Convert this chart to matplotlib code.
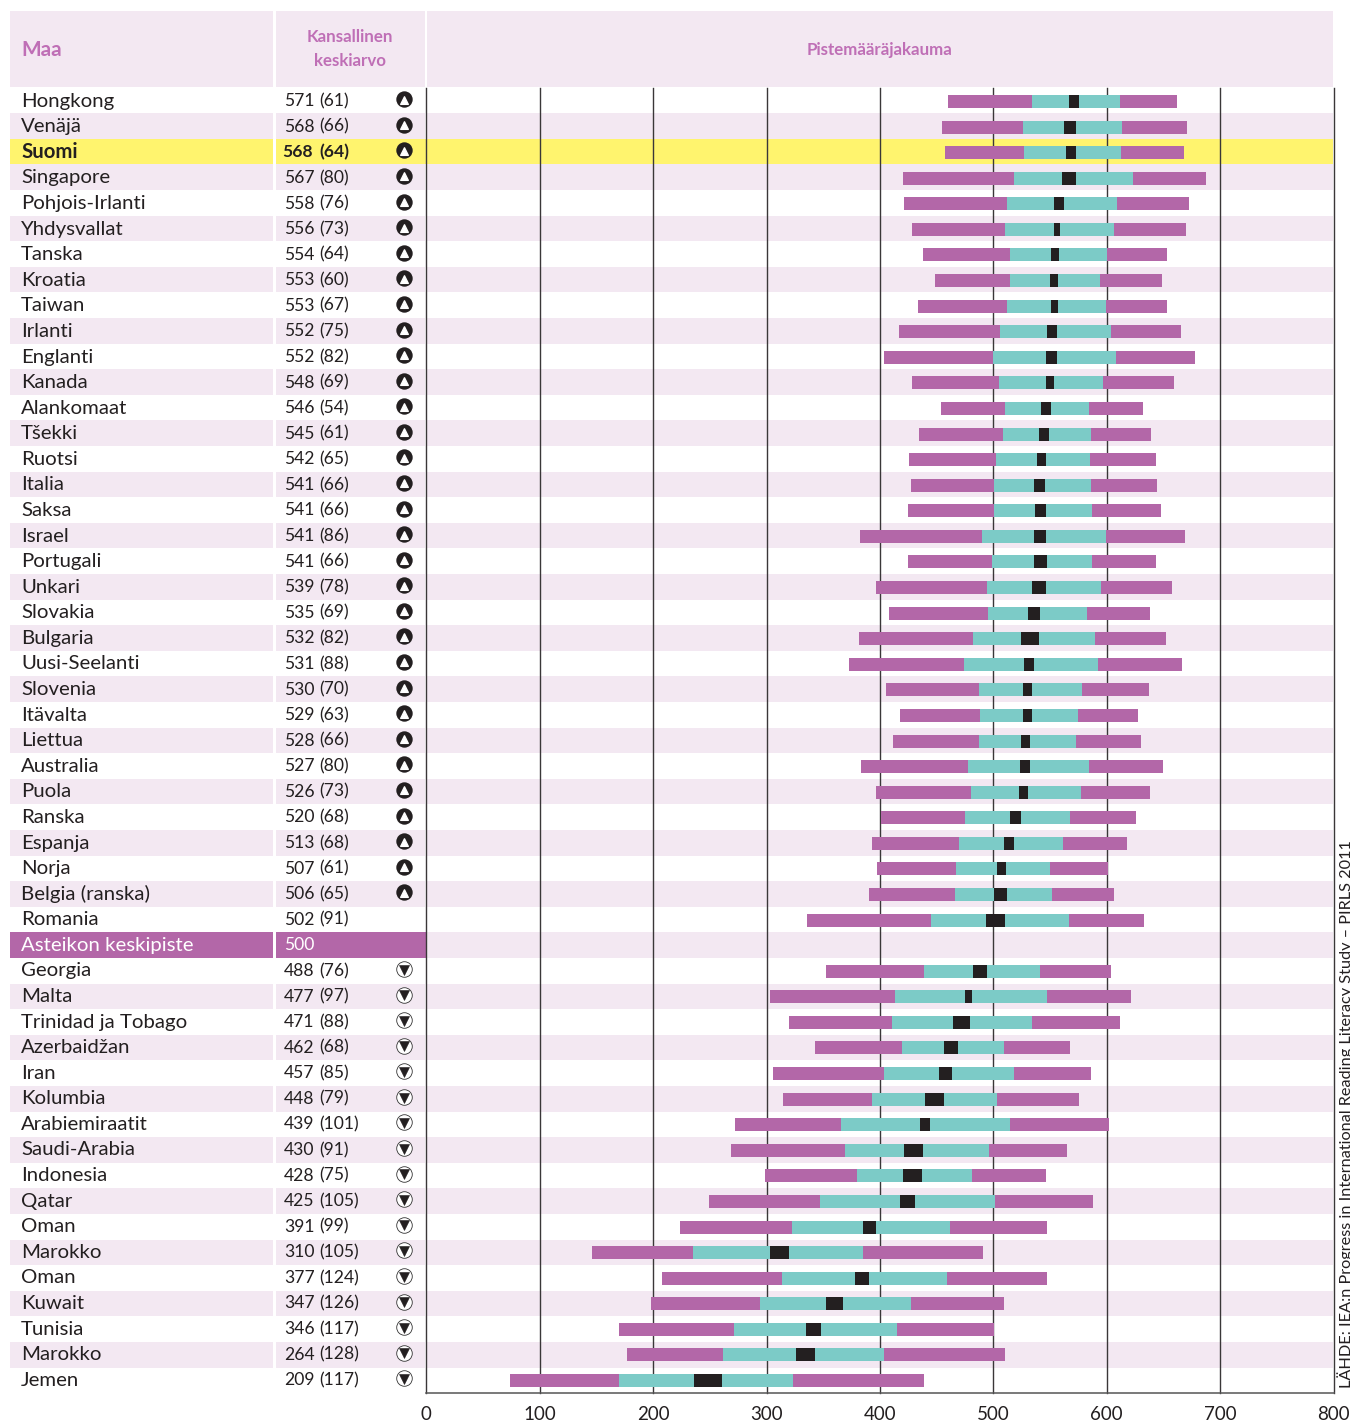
import numpy as np
import matplotlib
matplotlib.use('Agg')
import matplotlib.pyplot as plt
from matplotlib.patches import Rectangle

nan = np.nan

countries = ['Hongkong', 'Venäjä', 'Suomi', 'Singapore', 'Pohjois-Irlanti', 'Yhdysvallat', 'Tanska', 'Kroatia',
             'Taiwan', 'Irlanti', 'Englanti', 'Kanada', 'Alankomaat', 'Tšekki', 'Ruotsi', 'Italia', 'Saksa',
             'Israel', 'Portugali', 'Unkari', 'Slovakia', 'Bulgaria', 'Uusi-Seelanti', 'Slovenia', 'Itävalta',
             'Liettua', 'Australia', 'Puola', 'Ranska', 'Espanja', 'Norja', 'Belgia (ranska)', 'Romania',
             'Asteikon keskipiste', 'Georgia', 'Malta', 'Trinidad ja Tobago', 'Azerbaidžan', 'Iran', 'Kolumbia',
             'Arabiemiraatit', 'Saudi-Arabia', 'Indonesia', 'Qatar', 'Oman', 'Marokko', 'Oman', 'Kuwait',
             'Tunisia', 'Marokko', 'Jemen']
means = [571, 568, 568, 567, 558, 556, 554, 553, 553, 552, 552, 548, 546, 545, 542, 541, 541, 541, 541, 539,
         535, 532, 531, 530, 529, 528, 527, 526, 520, 513, 507, 506, 502, 500, 488, 477, 471, 462, 457, 448,
         439, 430, 428, 425, 391, 310, 377, 347, 346, 264, 209]
spreads = [61, 66, 64, 80, 76, 73, 64, 60, 67, 75, 82, 69, 54, 61, 65, 66, 66, 86, 66, 78, 69, 82, 88, 70, 63,
           66, 80, 73, 68, 68, 61, 65, 91, None, 76, 97, 88, 68, 85, 79, 101, 91, 75, 105, 99, 105, 124, 126,
           117, 128, 117]
# 1 = yli asteikon keskipisteen, -1 = alle, 0 = ei eroa
signs = [1] * 32 + [0, 0] + [-1] * 17

p5 = [460, 454.7, 457.3, 420.3, 421.2, 428.3, 437.9, 448.5, 433.5, 416.8, 403.5, 428.3, 453.8, 434.4, 425.6,
      427.4, 424.7, 382.4, 424.7, 396.5, 408, 381.5, 372.7, 405.3, 417.7, 411.5, 383.3, 396.5, 400.9, 393,
      397.4, 390.3, 335.7, nan, 352.5, 303.1, 319.8, 342.8, 305.7, 314.5, 272.2, 268.7, 298.7, 249.3, 223.8,
      146.2, 208, 198.1, 170, 177.3, 73.8]
p25 = [534.1, 526.1, 527, 518.2, 512, 510.3, 514.7, 514.7, 512, 505.8, 499.7, 505, 510.3, 508.5, 502.3,
       500.5, 500.5, 490, 498.8, 494.4, 495.3, 482, 474.1, 487.3, 488.2, 487.3, 477.6, 480.3, 475, 469.7,
       467, 466.2, 445, nan, 438.9, 413.3, 410.7, 419.5, 403.6, 393, 365.7, 369.2, 379.8, 347.2, 322.5,
       235.4, 314, 294.2, 271.6, 261.7, 170]
ci_low = [566.7, 562.3, 564, 560.5, 553.5, 553.5, 550.8, 549.9, 550.8, 547.3, 546.4, 546.4, 542, 540.2, 538.5,
          535.8, 536.7, 535.8, 535.8, 534.1, 530.5, 524.4, 527, 526.1, 526.1, 524.4, 523.5, 522.6, 514.7, 509.4,
          503.2, 500.5, 493.5, nan, 482, 475, 464.4, 456.5, 452.1, 439.8, 435.3, 421.2, 420.4, 417.7, 385.1,
          303.4, 378.3, 352.7, 334.8, 326, 236.1]
ci_high = [575.5, 572.8, 572.8, 572.8, 562.3, 558.7, 557.9, 557, 557, 556.1, 556.1, 553.5, 550.8, 549, 546.4,
           545.5, 546.4, 546.4, 547.3, 546.4, 541.1, 540.2, 535.8, 534.1, 534.1, 532.3, 532.3, 530.5, 524.4, 518.2,
           511.1, 512, 510.3, nan, 494.4, 481.2, 479.4, 468.8, 463.6, 456.5, 444.2, 438, 437.1, 431, 396.6,
           319.8, 390.4, 367.7, 348.3, 342.8, 261]
p75 = [611.6, 613.4, 612.5, 623.1, 609, 606.4, 600.2, 594, 599.3, 603.7, 608.1, 596.7, 584.3, 586.1, 585.2,
       586.1, 587, 599.3, 587, 594.9, 582.5, 589.5, 592.2, 578.1, 574.6, 572.8, 584.3, 577.3, 567.5, 561.4,
       549.9, 551.7, 566.7, nan, 541.1, 547.3, 534.1, 509.4, 518.2, 503.2, 514.7, 496.2, 481.2, 501.5, 461.8,
       385.2, 459.4, 427.6, 415.2, 403.9, 323.5]
p95 = [661.9, 670.7, 668.1, 687.5, 672.5, 669.8, 653.1, 648.7, 653.1, 665.4, 677.8, 659.3, 631.9, 639, 643.4,
       644.3, 647.8, 669, 643.4, 657.5, 638.1, 652.2, 666.3, 637.2, 627.5, 630.2, 649.5, 638.1, 625.8, 617.8,
       601.1, 606.4, 632.8, nan, 603.7, 621.4, 611.7, 567.6, 586.1, 575.5, 602, 565, 546.4, 587.9, 547.3,
       490.9, 547.5, 509.5, 500.7, 510.2, 439]
x_ticks = [0, 100, 200, 300, 400, 500, 600, 700, 800]

PURPLE = '#b367a8'
TEAL = '#7ccbc7'
BLACK = '#231f20'
PINK = '#f3e8f2'
YELLOW = '#fff46e'
HEAD = '#bf6fb6'
FONT = ['Lato', 'DejaVu Sans']

W, H = 1350, 1422
ROW0, PITCH = 101.5, 25.58
BAND0, BAND_H = 87.5, 25.6
AX_L, AX_R, AX_T, AX_B = 426.3, 1333.5, 88, 1393


def row_y(r):
    return ROW0 + PITCH * r


fig = plt.figure(figsize=(W / 100, H / 100), dpi=100)
fig.patch.set_facecolor('white')

# Taulukko ja taustat pikselikoordinaateissa
page = fig.add_axes([0, 0, 1, 1], zorder=1)
page.set_xlim(0, W)
page.set_ylim(H, 0)
page.axis('off')

for x0, x1 in [(10, 273), (276, 425), (427, 1333)]:
    page.add_patch(Rectangle((x0, 11), x1 - x0, 76, fc=PINK, ec='none'))

page.text(21, 49.5, 'Maa', color=HEAD, fontsize=15, fontweight='bold', family=FONT, va='center')
page.text(350, 37.5, 'Kansallinen', color=HEAD, fontsize=12.2, fontweight='bold', family=FONT, ha='center', va='center')
page.text(350, 61.5, 'keskiarvo', color=HEAD, fontsize=12.2, fontweight='bold', family=FONT, ha='center', va='center')
page.text(880, 49.5, 'Pistemääräjakauma', color=HEAD, fontsize=12.2, fontweight='bold', family=FONT, ha='center', va='center')

for r, name in enumerate(countries):
    top = BAND0 + BAND_H * r
    y = row_y(r) - 0.3
    if name == 'Suomi':
        page.add_patch(Rectangle((10, top), 263, BAND_H, fc=YELLOW, ec='none'))
        page.add_patch(Rectangle((276, top), 1057, BAND_H, fc=YELLOW, ec='none'))
    elif name == 'Asteikon keskipiste':
        page.add_patch(Rectangle((10, top), 263, BAND_H, fc=PURPLE, ec='none'))
        page.add_patch(Rectangle((276, top), 150, BAND_H, fc=PURPLE, ec='none'))
        page.add_patch(Rectangle((427, top), 906, BAND_H, fc=PINK, ec='none'))
    elif r % 2 == 1:
        for x0, x1 in [(10, 273), (276, 425), (427, 1333)]:
            page.add_patch(Rectangle((x0, top), x1 - x0, BAND_H, fc=PINK, ec='none'))

    color = 'white' if name == 'Asteikon keskipiste' else BLACK
    weight = 'bold' if name == 'Suomi' else 'normal'
    page.text(21, y, name, color=color, fontsize=14.7, fontweight=weight, family=FONT, va='center')
    page.text(284 if name != 'Suomi' else 282, y, str(means[r]), color=color, fontsize=12.6, fontweight=weight,
              family=FONT, va='center')
    if spreads[r] is not None:
        page.text(319, y, f'({spreads[r]})', color=color, fontsize=12.6, fontweight=weight, family=FONT, va='center')

    if signs[r] == 1:
        page.plot(404, row_y(r) - 2.2, 'o', ms=11.8, mfc=BLACK, mec=BLACK, mew=0)
        page.plot(404, row_y(r) - 1.8, '^', ms=6.2, mfc='white', mec='white', mew=0.8)
    elif signs[r] == -1:
        page.plot(404, row_y(r) - 2.2, 'o', ms=11.2, mfc='white', mec='#333333', mew=0.6)
        page.plot(404, row_y(r) - 1.6, 'v', ms=7.5, mfc=BLACK, mec=BLACK, mew=0.4)

# Lähdeteksti on rajattu alareunasta kuten alkuperäisessä
source = page.text(1354, 840, 'LÄHDE: IEA:n Progress in International Reading Literacy Study – PIRLS 2011',
                   rotation=90, color=BLACK, fontsize=11.7, family=FONT, ha='right', va='top')
source.set_clip_path(Rectangle((1330, 800), 20, 593, transform=page.transData))
source.set_clip_on(True)

# Kuvaaja
ax = fig.add_axes([AX_L / W, 1 - AX_B / H, (AX_R - AX_L) / W, (AX_B - AX_T) / H], zorder=2)
ax.patch.set_alpha(0)
ax.set_xlim(0, 800)
ax.set_ylim((AX_B - ROW0) / PITCH, (AX_T - ROW0) / PITCH)

rows = np.arange(len(countries))
p5_a, p25_a, lo_a, hi_a, p75_a, p95_a = map(np.array, (p5, p25, ci_low, ci_high, p75, p95))
bar_h = 13 / PITCH
ax.barh(rows, p25_a - p5_a, left=p5_a, height=bar_h, color=PURPLE, zorder=3)
ax.barh(rows, lo_a - p25_a, left=p25_a, height=bar_h, color=TEAL, zorder=3)
ax.barh(rows, hi_a - lo_a, left=lo_a, height=bar_h, color=BLACK, zorder=3)
ax.barh(rows, p75_a - hi_a, left=hi_a, height=bar_h, color=TEAL, zorder=3)
ax.barh(rows, p95_a - p75_a, left=p75_a, height=bar_h, color=PURPLE, zorder=3)

for t in x_ticks:
    ax.axvline(t, color='#3a3738', lw=1.0, zorder=2, clip_on=False)

for side in ['top', 'left', 'right']:
    ax.spines[side].set_visible(False)
ax.spines['bottom'].set_color('#555555')
ax.spines['bottom'].set_linewidth(1.1)
ax.set_yticks([])
ax.set_xticks(x_ticks)
ax.tick_params(axis='x', length=0, pad=9, labelsize=13.5, labelcolor=BLACK)
for label in ax.get_xticklabels():
    label.set_family(FONT)

fig.savefig('out.png', dpi=100)
